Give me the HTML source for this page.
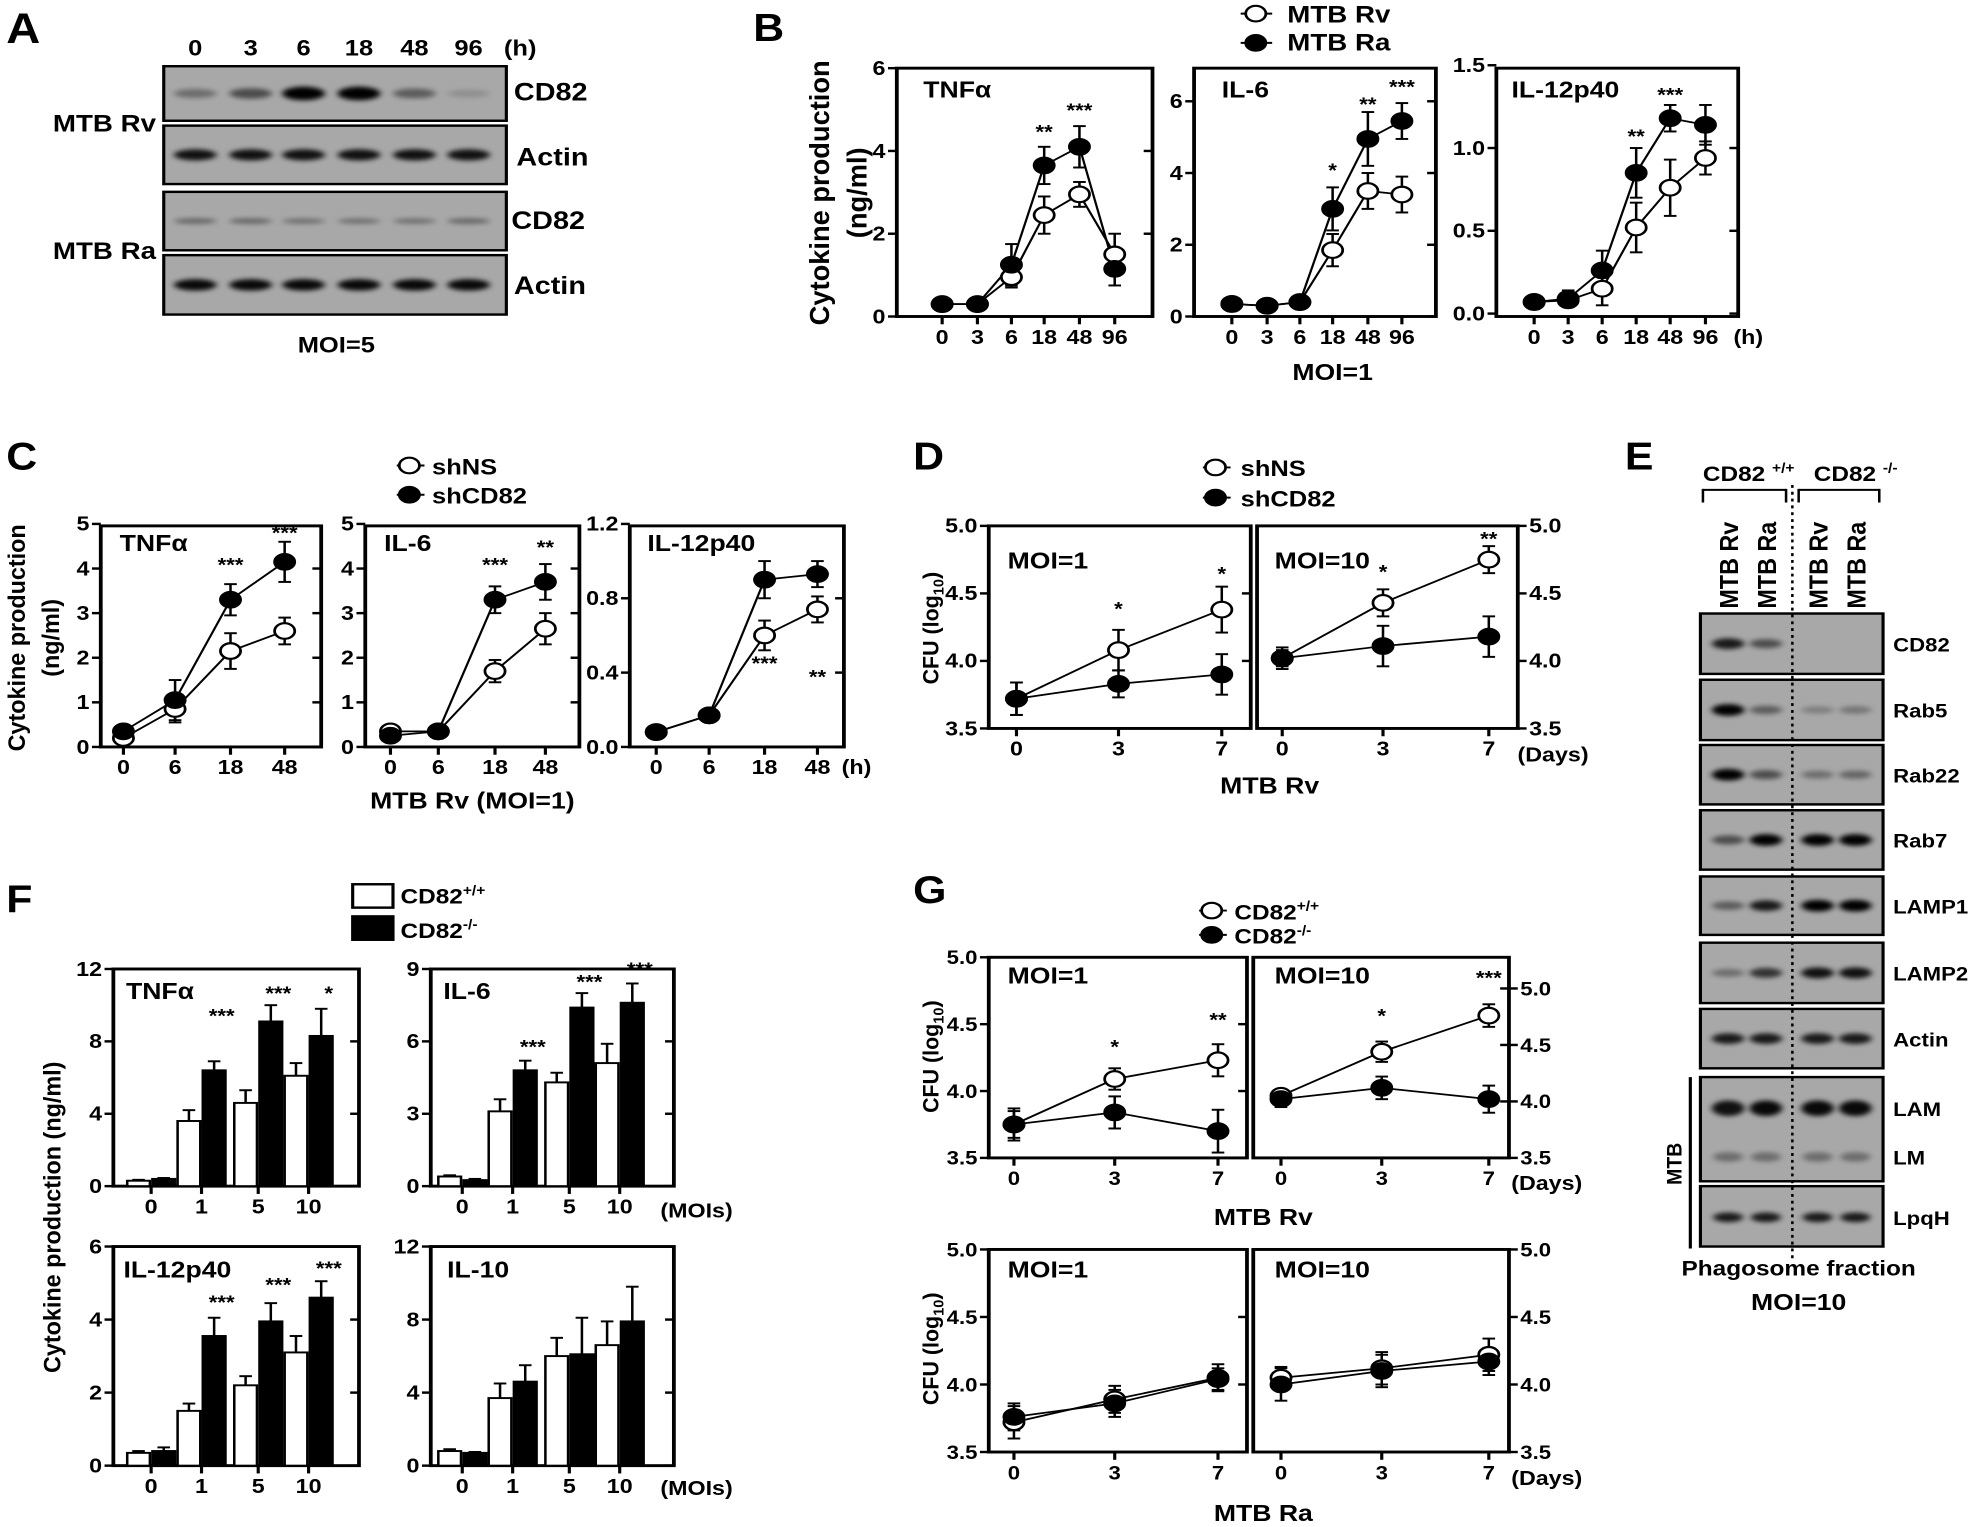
<!DOCTYPE html>
<html><head><meta charset="utf-8"><style>
html,body{margin:0;padding:0;background:#fff;}
svg{display:block;}
text{font-family:"Liberation Sans","DejaVu Sans",sans-serif;font-weight:bold;fill:#000;}
</style></head><body>
<svg id="s" xmlns="http://www.w3.org/2000/svg" width="1975" height="1527" viewBox="0 0 1568 1568" preserveAspectRatio="none">
<defs><filter id="bl" x="-50%" y="-100%" width="200%" height="300%"><feGaussianBlur stdDeviation="2.5"/></filter></defs>
</svg>
<script>
var S=document.getElementById('s');var o=[];
var SX=0.88;
function T(x,y,s,sz,anc,sx){anc=anc||'start';sx=sx||SX;o.push('<text transform="translate('+x+','+y+') scale('+sx+',1)" font-size="'+sz+'" text-anchor="'+anc+'">'+s+'</text>');}
function TR(x,y,s,sz){o.push('<text transform="translate('+x+','+y+') rotate(-90) scale(1,0.8)" font-size="'+sz+'" text-anchor="middle">'+s+'</text>');}
function L(x1,y1,x2,y2,w,extra){o.push('<line x1="'+x1+'" y1="'+y1+'" x2="'+x2+'" y2="'+y2+'" stroke="#000" stroke-width="'+(w||2.5)+'" '+(extra||'')+'/>');}
function R(x,y,w,h,f,sw){o.push('<rect x="'+x+'" y="'+y+'" width="'+w+'" height="'+h+'" fill="'+f+'" stroke="#000" stroke-width="'+(sw||2.5)+'"/>');}
function C(x,y,filled){o.push('<ellipse cx="'+x+'" cy="'+y+'" rx="8" ry="8" fill="'+(filled?'#000':'#fff')+'" stroke="#000" stroke-width="2.2"/>');}
function EB(x,y1,y2){L(x,y1,x,y2,2);L(x-5,y1,x+5,y1,2);L(x-5,y2,x+5,y2,2);}
function plot(p){
 var b=p.box;R(b[0],b[1],b[2]-b[0],b[3]-b[1],'none',3);
 var ym=function(v){return p.ym[1]+(v-p.ym[0])*(p.ym[3]-p.ym[1])/(p.ym[2]-p.ym[0]);};
 p.yt.forEach(function(t){var y=ym(t[0]);if(p.left!==false){L(b[0],y,b[0]-7,y,2.5);T(b[0]-9,y+7,t[1],p.ts||21,'end');}
  if(p.right){L(b[2],y,b[2]+7,y,2.5);T(b[2]+9,y+7,t[1],p.ts||21,'start');} else if(y>b[1]+3) L(b[2],y,b[2]-7,y,2.5);});
 if(p.ryt){p.ryt.forEach(function(t){var y=p.rym(t[0]);L(b[2],y,b[2]+7,y,2.5);L(b[2],y,b[2]-7,y,2.5);T(b[2]+9,y+7,t[1],p.ts||21,'start');});}
 p.xs.forEach(function(x,i){L(x,b[3],x,b[3]+8,2.5);if(p.xl)T(x,b[3]+(p.xo||28),p.xl[i],p.ts||21,'middle');});
 var yf=p.rym||ym;
 if(p.series){p.series.forEach(function(s){var pts=s.v.map(function(v,i){return p.xs[i]+','+yf(v);}).join(' ');o.push('<polyline points="'+pts+'" fill="none" stroke="#000" stroke-width="1.8"/>');});
 p.series.forEach(function(s){s.v.forEach(function(v,i){var e=s.e[i];EB(p.xs[i],yf(v+e),yf(v-e));});});
 p.series.forEach(function(s){s.v.forEach(function(v,i){C(p.xs[i],yf(v),s.f);});});}
 if(p.bars){p.bars.forEach(function(s,k){s.v.forEach(function(v,i){var c=p.xs[i];var x=k==0?c-19:c+1;var y=ym(v);var y0=ym(p.ym[0]);
  o.push('<rect x="'+x+'" y="'+y+'" width="18" height="'+(y0-y)+'" fill="'+(k?'#000':'#fff')+'" stroke="#000" stroke-width="2"/>');
  var e=s.e[i];L(x+9,y,x+9,ym(v+e),2);L(x+4,ym(v+e),x+14,ym(v+e),2);});});}
 if(p.st)p.st.forEach(function(s){T(s[0],s[1],s[2],20,'middle');});
 if(p.title)T(p.title[0],p.title[1],p.title[2],24,'start');
}
function band(x,y,w,h,a){if(a<=0)return;o.push('<ellipse cx="'+x+'" cy="'+y+'" rx="'+w+'" ry="'+h+'" fill="#000" fill-opacity="'+a+'" filter="url(#bl)"/>');}
function blot(x,y,w,h){o.push('<rect x="'+x+'" y="'+y+'" width="'+w+'" height="'+h+'" fill="#a8a8a8" stroke="#000" stroke-width="2.5"/>');}

/* ---------- A ---------- */
T(5,44,'A',44,'start',0.85);
var la=[155,199,241,285,329,372];
['0','3','6','18','48','96'].forEach(function(s,i){T(la[i],57,s,23,'middle');});T(413,57,'(h)',23,'middle');
var rowsA=[[68,124,[0.35,0.55,1,1,0.45,0.15],7],[129,189,[0.9,0.9,0.9,0.9,0.9,0.9],6],[197,257,[0.4,0.4,0.35,0.35,0.35,0.4],4],[262,323,[0.95,0.95,0.95,0.95,0.95,0.95],6]];
rowsA.forEach(function(r){blot(130,r[0],272,r[1]-r[0]);r[2].forEach(function(a,i){band(la[i],(r[0]+r[1])/2,17,r[3]*(0.5+0.5*a),a);});});
T(408,103,'CD82',26);T(410,170,'Actin',26);T(406,235,'CD82',26);T(408,302,'Actin',26);
T(42,135,'MTB Rv',25);T(42,266,'MTB Ra',25);T(267,362,'MOI=5',23,'middle');

/* ---------- B ---------- */
T(598,42,'B',40,'start',0.85);
L(985,14,1010,14,2);C(997,14,0);T(1022,23,'MTB Rv',25);
L(985,44,1010,44,2);C(997,44,1);T(1022,52,'MTB Ra',25);
TR(658,198,'Cytokine production',28);TR(688,198,'(ng/ml)',28);
var hx=['0','3','6','18','48','96'];
plot({box:[712,70,915,325],ym:[0,325,6,70],yt:[[0,'0'],[2,'2'],[4,'4'],[6,'6']],xs:[748,776,803,829,857,885],xl:hx,
 series:[{v:[0.3,0.3,0.95,2.45,2.95,1.5],e:[0.1,0.1,0.25,0.45,0.3,0.5],f:0},{v:[0.3,0.3,1.25,3.65,4.1,1.15],e:[0.1,0.1,0.5,0.45,0.5,0.4],f:1}],
 st:[[829,142,'**'],[857,120,'***']],title:[733,100,'TNFα']});
plot({box:[948,70,1140,325],ym:[0,325,6,104],yt:[[0,'0'],[2,'2'],[4,'4'],[6,'6']],xs:[978,1006,1032,1058,1086,1113],xl:hx,
 series:[{v:[0.35,0.3,0.4,1.85,3.5,3.4],e:[0.1,0.1,0.1,0.45,0.5,0.5],f:0},{v:[0.35,0.3,0.4,3.0,4.95,5.45],e:[0.1,0.1,0.1,0.6,0.75,0.5],f:1}],
 st:[[1058,182,'*'],[1086,114,'**'],[1113,96,'***']],title:[970,100,'IL-6']});
plot({box:[1188,70,1380,325],ym:[0,322,1.5,67],yt:[[0,'0.0'],[0.5,'0.5'],[1,'1.0'],[1.5,'1.5']],xs:[1218,1245,1272,1299,1326,1354],xl:hx,
 series:[{v:[0.07,0.08,0.15,0.52,0.76,0.94],e:[0.02,0.03,0.1,0.15,0.17,0.1],f:0},{v:[0.07,0.09,0.26,0.85,1.18,1.14],e:[0.02,0.05,0.12,0.15,0.08,0.12],f:1}],
 st:[[1299,147,'**'],[1326,104,'***']],title:[1200,100,'IL-12p40']});
T(1388,353,'(h)',21,'middle');T(1058,390,'MOI=1',24,'middle');

/* ---------- C ---------- */
T(5,482,'C',40,'start',0.85);
L(315,478,337,478,2);C(325,478,0);T(343,487,'shNS',23);
L(315,508,337,508,2);C(325,508,1);T(343,517,'shCD82',23);
TR(20,655,'Cytokine production',24);TR(47,655,'(ng/ml)',24);
var c5=[[0,'0'],[1,'1'],[2,'2'],[3,'3'],[4,'4'],[5,'5']];var cx=['0','6','18','48'];
plot({box:[80,540,255,767],ym:[0,767,5,538],yt:c5,xs:[98,139,183,226],xl:cx,
 series:[{v:[0.2,0.85,2.15,2.6],e:[0.1,0.3,0.4,0.3],f:0},{v:[0.35,1.05,3.3,4.15],e:[0.1,0.45,0.35,0.45],f:1}],
 st:[[183,587,'***'],[226,554,'***']],title:[95,566,'TNFα']});
plot({box:[290,540,460,767],ym:[0,767,5,538],yt:c5,xs:[310,348,393,433],xl:cx,
 series:[{v:[0.35,0.35,1.7,2.65],e:[0.1,0.1,0.25,0.35],f:0},{v:[0.25,0.35,3.3,3.7],e:[0.1,0.1,0.3,0.4],f:1}],
 st:[[393,587,'***'],[433,569,'**']],title:[305,566,'IL-6']});
plot({box:[500,540,670,767],ym:[0,767,1.2,538],yt:[[0,'0.0'],[0.4,'0.4'],[0.8,'0.8'],[1.2,'1.2']],xs:[521,563,607,649],xl:cx,
 series:[{v:[0.08,0.17,0.6,0.74],e:[0.02,0.02,0.08,0.07],f:0},{v:[0.08,0.17,0.9,0.93],e:[0.02,0.02,0.1,0.07],f:1}],
 st:[[607,688,'***'],[649,702,'**']],title:[514,566,'IL-12p40']});
T(680,795,'(h)',21,'middle');T(375,830,'MTB Rv (MOI=1)',24,'middle');

/* ---------- D ---------- */
T(725,482,'D',40,'start',0.85);
L(955,480,977,480,2);C(965,480,0);T(985,489,'shNS',23);
L(955,511,977,511,2);C(965,511,1);T(985,520,'shCD82',23);
TR(745,645,'CFU (log<tspan font-size="15" dy="5">10</tspan><tspan dy="-5">)</tspan>',22);
var dy=[[3.5,'3.5'],[4,'4.0'],[4.5,'4.5'],[5,'5.0']];
plot({box:[785,540,993,748],ym:[3.5,748,5,540],yt:dy,xs:[807,888,970],xl:['0','3','7'],
 series:[{v:[3.72,4.08,4.38],e:[0.12,0.15,0.17],f:0},{v:[3.72,3.83,3.9],e:[0.12,0.1,0.15],f:1}],
 st:[[888,632,'*'],[970,596,'*']],title:[800,584,'MOI=1']});
plot({box:[998,540,1205,748],ym:[3.5,748,5,540],yt:dy,left:false,right:true,xs:[1018,1098,1182],xl:['0','3','7'],
 series:[{v:[4.02,4.43,4.75],e:[0.06,0.1,0.1],f:0},{v:[4.02,4.11,4.18],e:[0.08,0.15,0.15],f:1}],
 st:[[1098,594,'*'],[1182,560,'**']],title:[1012,584,'MOI=10']});
T(1233,782,'(Days)',21,'middle');T(1008,815,'MTB Rv',24,'middle');

/* ---------- E ---------- */
T(1290,482,'E',40,'start',0.85);
T(1352,494,'CD82 <tspan font-size="14" dy="-9">+/+</tspan>',22);
T(1440,494,'CD82 <tspan font-size="14" dy="-9">-/-</tspan>',22);
L(1352,503,1418,503,2);L(1352,502,1352,516,2);L(1418,502,1418,516,2);
L(1428,503,1492,503,2);L(1428,502,1428,516,2);L(1492,502,1492,516,2);
var le=[1372,1402,1443,1473];
['MTB Rv','MTB Ra','MTB Rv','MTB Ra'].forEach(function(s,i){o.push('<text transform="translate('+(le[i]+8)+',625) rotate(-90) scale(1,0.85)" font-size="24">'+s+'</text>');});
var er=[[630,692,'CD82',[0.85,0.55,0,0]],[698,760,'Rab5',[1,0.45,0.25,0.3]],[765,826,'Rab22',[1,0.55,0.35,0.4]],[832,893,'Rab7',[0.55,1,1,1]],[900,960,'LAMP1',[0.45,0.85,1,1]],[968,1030,'LAMP2',[0.35,0.7,0.9,0.9]],[1036,1097,'Actin',[0.85,0.85,0.85,0.85]]];
er.forEach(function(r){blot(1350,r[0],145,r[1]-r[0]);r[3].forEach(function(a,i){band(le[i],(r[0]+r[1])/2,13,6*(0.5+0.5*a),a);});T(1503,(r[0]+r[1])/2+8,r[2],20);});
blot(1350,1106,145,107);[0.9,0.95,0.95,0.95].forEach(function(a,i){band(le[i],1138,13,8,a);band(le[i],1188,12,5,0.35);});
T(1503,1146,'LAM',20);T(1503,1196,'LM',20);
blot(1350,1218,145,62);le.forEach(function(x){band(x,1250,12,5,0.85);});T(1503,1258,'LpqH',20);
L(1423,498,1423,1292,2,'stroke-dasharray="3,4"');
L(1342,1106,1342,1282,2.5);o.push('<text transform="translate(1335,1195) rotate(-90) scale(1,0.85)" font-size="20" text-anchor="middle">MTB</text>');
T(1428,1310,'Phagosome fraction',22,'middle');T(1428,1345,'MOI=10',24,'middle');

/* ---------- F ---------- */
T(5,937,'F',40,'start',0.85);
R(280,908,32,24,'#fff',2.5);T(318,928,'CD82<tspan font-size="14" dy="-9">+/+</tspan>',22);
R(280,941,32,24,'#000',2.5);T(318,963,'CD82<tspan font-size="14" dy="-9">-/-</tspan>',22);
TR(48,1250,'Cytokine production (ng/ml)',24);
var fx1=[120,160,205,245],fx2=[367,407,452,492],fl=['0','1','5','10'];
plot({box:[90,995,285,1218],ym:[0,1218,12,995],yt:[[0,'0'],[4,'4'],[8,'8'],[12,'12']],xs:fx1,xl:fl,
 bars:[{v:[0.3,3.6,4.6,6.1],e:[0.05,0.6,0.7,0.7]},{v:[0.4,6.4,9.1,8.3],e:[0.05,0.5,0.9,1.5]}],
 st:[[176,1050,'***'],[221,1027,'***'],[261,1027,'*']],title:[100,1026,'TNFα']});
plot({box:[342,995,535,1218],ym:[0,1218,9,995],yt:[[0,'0'],[3,'3'],[6,'6'],[9,'9']],xs:fx2,xl:fl,
 bars:[{v:[0.4,3.1,4.3,5.1],e:[0.05,0.5,0.4,0.8]},{v:[0.25,4.8,7.4,7.6],e:[0.05,0.4,0.6,0.8]}],
 st:[[423,1082,'***'],[468,1015,'***'],[508,1002,'***']],title:[352,1026,'IL-6']});
T(553,1250,'(MOIs)',21,'middle');
plot({box:[90,1280,285,1505],ym:[0,1505,6,1280],yt:[[0,'0'],[2,'2'],[4,'4'],[6,'6']],xs:fx1,xl:fl,
 bars:[{v:[0.35,1.5,2.2,3.1],e:[0.05,0.2,0.25,0.45]},{v:[0.4,3.55,3.95,4.6],e:[0.1,0.5,0.5,0.45]}],
 st:[[176,1344,'***'],[221,1326,'***'],[261,1309,'***']],title:[98,1312,'IL-12p40']});
plot({box:[342,1280,535,1505],ym:[0,1505,12,1280],yt:[[0,'0'],[4,'4'],[8,'8'],[12,'12']],xs:fx2,xl:fl,
 bars:[{v:[0.8,3.7,6,6.6],e:[0.1,0.8,1,1.3]},{v:[0.7,4.6,6.1,7.9],e:[0.05,0.9,2,1.9]}],
 title:[355,1312,'IL-10']});
T(553,1535,'(MOIs)',21,'middle');

/* ---------- G ---------- */
T(725,927,'G',40,'start',0.85);
L(952,935,974,935,2);C(962,935,0);T(980,944,'CD82<tspan font-size="14" dy="-9">+/+</tspan>',22);
L(952,960,974,960,2);C(962,960,1);T(980,969,'CD82<tspan font-size="14" dy="-9">-/-</tspan>',22);
TR(745,1085,'CFU (log<tspan font-size="15" dy="5">10</tspan><tspan dy="-5">)</tspan>',22);
plot({box:[785,983,990,1189],ym:[3.5,1189,5,983],yt:dy,xs:[805,885,967],xl:['0','3','7'],ts:20,
 series:[{v:[3.75,4.09,4.23],e:[0.1,0.08,0.12],f:0},{v:[3.75,3.84,3.70],e:[0.12,0.12,0.16],f:1}],
 st:[[885,1082,'*'],[967,1054,'**']],title:[800,1010,'MOI=1']});
var rm=function(v){return 1189-(v-3.5)*116;};
plot({box:[995,983,1198,1189],ym:[3.5,1189,5,983],yt:[],left:false,rym:rm,ryt:dy,xs:[1017,1097,1182],xl:['0','3','7'],ts:20,
 series:[{v:[4.05,4.44,4.76],e:[0.05,0.09,0.1],f:0},{v:[4.02,4.12,4.02],e:[0.07,0.1,0.12],f:1}],
 st:[[1097,1050,'*'],[1182,1011,'***']],title:[1012,1010,'MOI=10']});
T(1228,1222,'(Days)',21,'middle');T(1003,1258,'MTB Rv',24,'middle');
TR(745,1385,'CFU (log<tspan font-size="15" dy="5">10</tspan><tspan dy="-5">)</tspan>',22);
plot({box:[785,1283,990,1491],ym:[3.5,1491,5,1283],yt:dy,xs:[805,885,967],xl:['0','3','7'],ts:20,
 series:[{v:[3.72,3.89,4.05],e:[0.12,0.1,0.1],f:0},{v:[3.76,3.86,4.04],e:[0.1,0.1,0.08],f:1}],title:[800,1312,'MOI=1']});
plot({box:[995,1283,1198,1491],ym:[3.5,1491,5,1283],yt:dy,left:false,right:true,xs:[1017,1097,1182],xl:['0','3','7'],ts:20,
 series:[{v:[4.05,4.12,4.22],e:[0.08,0.12,0.12],f:0},{v:[4.0,4.1,4.17],e:[0.12,0.12,0.1],f:1}],title:[1012,1312,'MOI=10']});
T(1228,1525,'(Days)',21,'middle');T(1003,1562,'MTB Ra',24,'middle');

S.insertAdjacentHTML('beforeend',o.join(''));
</script>
</body></html>
